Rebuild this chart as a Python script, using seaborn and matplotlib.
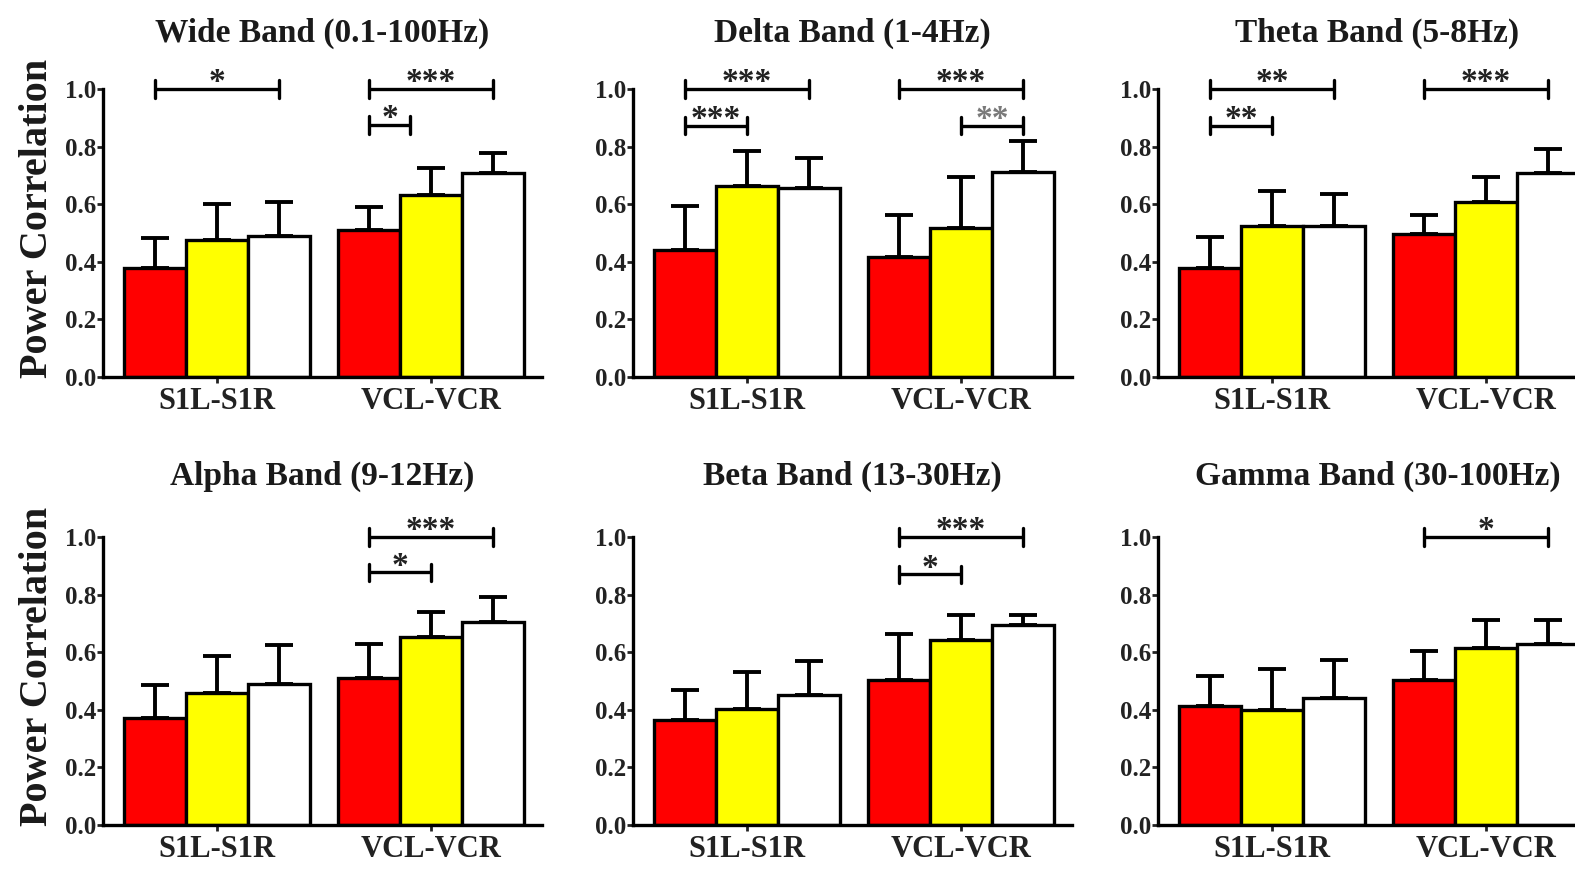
import numpy as np
import pandas as pd
import matplotlib
matplotlib.use("Agg")
import matplotlib.pyplot as plt
import seaborn as sns


# ---------------------------------------------------------------
# data
# ---------------------------------------------------------------

regions = ["S1L-S1R", "VCL-VCR"]
conditions = ["Condition 1", "Condition 2", "Condition 3"]
bar_colors = ["#ff0000", "#ffff00", "#ffffff"]

band_titles = [
    "Wide Band (0.1-100Hz)",
    "Delta Band (1-4Hz)",
    "Theta Band (5-8Hz)",
    "Alpha Band (9-12Hz)",
    "Beta Band (13-30Hz)",
    "Gamma Band (30-100Hz)",
]

# means: S1L (c1, c2, c3), VCL (c1, c2, c3)
wide_mean = [0.380, 0.476, 0.490, 0.512, 0.632, 0.710]
delta_mean = [0.442, 0.662, 0.657, 0.416, 0.518, 0.713]
theta_mean = [0.378, 0.524, 0.524, 0.495, 0.607, 0.709]
alpha_mean = [0.370, 0.457, 0.489, 0.511, 0.652, 0.705]
beta_mean = [0.363, 0.404, 0.451, 0.503, 0.641, 0.693]
gamma_mean = [0.414, 0.400, 0.440, 0.504, 0.616, 0.627]

# upper error (SEM)
wide_err = [0.102, 0.124, 0.116, 0.079, 0.095, 0.068]
delta_err = [0.153, 0.124, 0.104, 0.145, 0.176, 0.108]
theta_err = [0.108, 0.121, 0.110, 0.069, 0.089, 0.083]
alpha_err = [0.115, 0.129, 0.137, 0.118, 0.089, 0.085]
beta_err = [0.105, 0.128, 0.118, 0.159, 0.088, 0.035]
gamma_err = [0.105, 0.140, 0.132, 0.100, 0.096, 0.085]

# significance: (region, from bar, to bar, level, label)
wide_sig = [(0, 0, 2, 1.0, "*"), (1, 0, 2, 1.0, "***"), (1, 0, 0.67, 0.875, "*")]
delta_sig = [(0, 0, 2, 1.0, "***"), (0, 0, 1, 0.873, "***"),
             (1, 0, 2, 1.0, "***"), (1, 1, 2, 0.873, "**")]
theta_sig = [(0, 0, 2, 1.0, "**"), (0, 0, 1, 0.873, "**"), (1, 0, 2, 1.0, "***")]
alpha_sig = [(1, 0, 2, 1.0, "***"), (1, 0, 1, 0.877, "*")]
beta_sig = [(1, 0, 2, 1.0, "***"), (1, 0, 1, 0.870, "*")]
gamma_sig = [(1, 0, 2, 1.0, "*")]

y_ticks = [0.0, 0.2, 0.4, 0.6, 0.8, 1.0]

all_means = [wide_mean, delta_mean, theta_mean, alpha_mean, beta_mean, gamma_mean]
all_errs = [wide_err, delta_err, theta_err, alpha_err, beta_err, gamma_err]
all_sigs = [wide_sig, delta_sig, theta_sig, alpha_sig, beta_sig, gamma_sig]


sns.set_theme(style="ticks")
plt.rcParams["font.family"] = ["Liberation Serif", "DejaVu Serif"]
plt.rcParams["font.weight"] = "bold"


def bar_center(bar_conts, region, pos):
    # x centre of bar (pos may be fractional between bars)
    lo = int(np.floor(pos))
    hi = min(lo + 1, 2)
    frac = pos - lo
    p_lo = bar_conts[lo].patches[region]
    p_hi = bar_conts[hi].patches[region]
    x_lo = p_lo.get_x() + p_lo.get_width() / 2
    x_hi = p_hi.get_x() + p_hi.get_width() / 2
    return x_lo + (x_hi - x_lo) * frac


def draw_panel(ax, title, means, errs, sigs, row, show_ylabel):
    df = pd.DataFrame({
        "region": [r for r in regions for _ in conditions],
        "condition": conditions * len(regions),
        "value": means,
    })
    sns.barplot(data=df, x="region", y="value", hue="condition",
                hue_order=conditions, palette=bar_colors, saturation=1,
                edgecolor="black", linewidth=2.4, width=0.87,
                errorbar=None, legend=False, ax=ax)
    bar_conts = list(ax.containers)

    # one sided error bars
    for ci, cont in enumerate(bar_conts):
        for ri, patch in enumerate(cont.patches):
            i = ri * len(conditions) + ci
            x = patch.get_x() + patch.get_width() / 2
            ax.errorbar(x, means[i], yerr=[[0], [errs[i]]], fmt="none",
                        ecolor="black", elinewidth=2.8, capsize=10,
                        capthick=2.8, zorder=1)

    # significance brackets
    for region, b0, b1, level, label in sigs:
        x0 = bar_center(bar_conts, region, b0)
        x1 = bar_center(bar_conts, region, b1)
        ax.plot([x0, x1], [level, level], color="black", lw=2.4,
                clip_on=False, solid_capstyle="butt")
        for xe in (x0, x1):
            ax.plot([xe, xe], [level - 0.03, level + 0.03], color="black",
                    lw=2.4, clip_on=False)
        star_color = "#7a7a7a" if label == "**" and level < 0.95 and region == 1 else "#222222"
        ax.text((x0 + x1) / 2, level + 0.022, label, ha="center",
                va="center", fontsize=24, color=star_color,
                fontweight="bold", clip_on=False)

    ax.set_xlim(-0.533, 1.519)
    ax.set_ylim(0, 1.1)
    ax.set_yticks(y_ticks)
    ax.set_yticklabels([f"{t:.1f}" for t in y_ticks])
    ax.spines["top"].set_visible(False)
    ax.spines["right"].set_visible(False)
    ax.spines["left"].set_bounds(0, 1)
    ax.spines["left"].set_linewidth(2.4)
    ax.spines["bottom"].set_linewidth(2.4)
    ax.spines["left"].set_color("black")
    ax.spines["bottom"].set_color("black")
    ax.tick_params(axis="y", direction="out", length=4, width=2,
                   labelsize=18, pad=1, colors="#222222")
    ax.tick_params(axis="x", direction="out", length=4, width=2,
                   labelsize=22, pad=3, colors="#222222")
    for lab in ax.get_xticklabels() + ax.get_yticklabels():
        lab.set_fontweight("bold")
    ax.set_xlabel("")
    if show_ylabel:
        ax.set_ylabel("Power Correlation", fontsize=29, fontweight="bold",
                      labelpad=6, color="#1a1a1a")
    else:
        ax.set_ylabel("")
    pad = 13 if row == 0 else 17
    ax.set_title(title, fontsize=24, fontweight="bold", pad=pad, color="#1a1a1a")


fig = plt.figure(figsize=(15.75, 8.69), dpi=100)
fig.patch.set_facecolor("white")

W, H = 1575.0, 869.0
lefts = [103, 633, 1158]
zero_rows = [377, 825]
unit_px = 288.0
ax_w = 439.0 / W
ax_h = 1.1 * unit_px / H

for k in range(6):
    row, col = divmod(k, 3)
    ax = fig.add_axes([lefts[col] / W, (H - zero_rows[row]) / H, ax_w, ax_h])
    ax.set_facecolor("white")
    draw_panel(ax, band_titles[k], all_means[k], all_errs[k], all_sigs[k],
               row, col == 0)

fig.savefig("out.png", dpi=100, facecolor="white")
